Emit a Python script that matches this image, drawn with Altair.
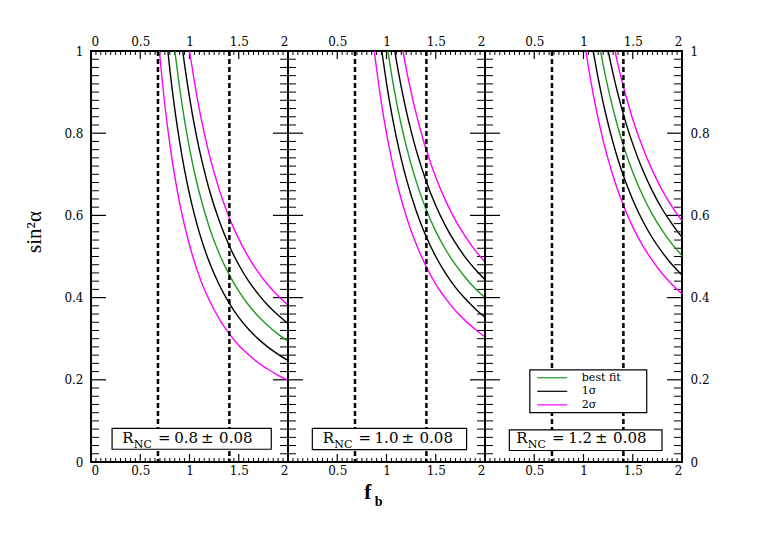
import altair as alt
import pandas as pd

W, H = 197, 411
FONT = "DejaVu Serif"
TFONT = "Liberation Serif"
GREEN = "#1f9a1f"
MAGENTA = "#ff00ff"

R_TEXT = ["0.8", "1.0", "1.2"]
DASHED_X = [0.68, 1.405]
X_LABELS = [0, 0.5, 1, 1.5, 2]
Y_LABELS = [0, 0.2, 0.4, 0.6, 0.8, 1.0]

# ---- curves
# panel 1 (R_NC = 0.8)
p1_2lo_x = [0.694, 0.75, 0.8, 0.85, 0.9, 0.95, 1.0, 1.1, 1.2, 1.3, 1.4, 1.5, 1.6, 1.7, 1.8, 1.9, 2.0]
p1_2lo_y = [1.0, 0.868, 0.774, 0.696, 0.630, 0.575, 0.528, 0.451, 0.394, 0.349, 0.313, 0.284, 0.261, 0.241, 0.225, 0.211, 0.199]
p1_1lo_x = [0.780, 0.8, 0.85, 0.9, 0.95, 1.0, 1.05, 1.1, 1.2, 1.3, 1.4, 1.5, 1.6, 1.7, 1.8, 1.9, 2.0]
p1_1lo_y = [1.0, 0.956, 0.859, 0.779, 0.710, 0.652, 0.602, 0.558, 0.487, 0.432, 0.388, 0.352, 0.323, 0.299, 0.279, 0.262, 0.247]
p1_bf_x = [0.851, 0.9, 0.95, 1.0, 1.05, 1.1, 1.2, 1.3, 1.4, 1.5, 1.6, 1.7, 1.8, 1.9, 2.0]
p1_bf_y = [1.0, 0.910, 0.831, 0.763, 0.705, 0.655, 0.572, 0.508, 0.457, 0.416, 0.382, 0.354, 0.331, 0.311, 0.294]
p1_1hi_x = [0.931, 0.95, 1.0, 1.05, 1.1, 1.15, 1.2, 1.3, 1.4, 1.5, 1.6, 1.7, 1.8, 1.9, 2.0]
p1_1hi_y = [1.0, 0.967, 0.888, 0.819, 0.760, 0.709, 0.663, 0.588, 0.528, 0.480, 0.440, 0.408, 0.380, 0.357, 0.337]
p1_2hi_x = [1.0, 1.05, 1.1, 1.15, 1.2, 1.3, 1.4, 1.5, 1.6, 1.7, 1.8, 1.9, 2.0]
p1_2hi_y = [1.0, 0.925, 0.858, 0.800, 0.749, 0.664, 0.597, 0.543, 0.498, 0.461, 0.430, 0.404, 0.382]

# panel 2 (R_NC = 1.0)
p2_2lo_x = [0.876, 0.9, 0.95, 1.0, 1.05, 1.1, 1.2, 1.3, 1.4, 1.5, 1.6, 1.7, 1.8, 1.9, 2.0]
p2_2lo_y = [1.0, 0.955, 0.871, 0.800, 0.739, 0.685, 0.598, 0.531, 0.477, 0.433, 0.398, 0.368, 0.344, 0.323, 0.305]
p2_1lo_x = [0.952, 1.0, 1.05, 1.1, 1.15, 1.2, 1.3, 1.4, 1.5, 1.6, 1.7, 1.8, 1.9, 2.0]
p2_1lo_y = [1.0, 0.922, 0.851, 0.790, 0.737, 0.690, 0.612, 0.550, 0.500, 0.459, 0.425, 0.397, 0.373, 0.352]
p2_bf_x = [1.014, 1.05, 1.1, 1.15, 1.2, 1.3, 1.4, 1.5, 1.6, 1.7, 1.8, 1.9, 2.0]
p2_bf_y = [1.0, 0.945, 0.878, 0.820, 0.769, 0.684, 0.616, 0.561, 0.517, 0.480, 0.449, 0.422, 0.400]
p2_1hi_x = [1.084, 1.1, 1.15, 1.2, 1.25, 1.3, 1.4, 1.5, 1.6, 1.7, 1.8, 1.9, 2.0]
p2_1hi_y = [1.0, 0.977, 0.912, 0.855, 0.805, 0.760, 0.685, 0.624, 0.574, 0.533, 0.498, 0.469, 0.444]
p2_2hi_x = [1.167, 1.2, 1.25, 1.3, 1.35, 1.4, 1.5, 1.6, 1.7, 1.8, 1.9, 2.0]
p2_2hi_y = [1.0, 0.957, 0.900, 0.849, 0.803, 0.762, 0.693, 0.636, 0.588, 0.549, 0.515, 0.487]

# panel 3 (R_NC = 1.2)
p3_2lo_x = [1.024, 1.05, 1.1, 1.15, 1.2, 1.25, 1.3, 1.4, 1.5, 1.6, 1.7, 1.8, 1.9, 2.0]
p3_2lo_y = [1.0, 0.961, 0.893, 0.834, 0.782, 0.737, 0.696, 0.628, 0.572, 0.527, 0.490, 0.458, 0.432, 0.409]
p3_1lo_x = [1.099, 1.15, 1.2, 1.25, 1.3, 1.35, 1.4, 1.5, 1.6, 1.7, 1.8, 1.9, 2.0]
p3_1lo_y = [1.0, 0.932, 0.874, 0.823, 0.777, 0.736, 0.700, 0.638, 0.587, 0.545, 0.510, 0.480, 0.455]
p3_bf_x = [1.173, 1.2, 1.25, 1.3, 1.35, 1.4, 1.5, 1.6, 1.7, 1.8, 1.9, 2.0]
p3_bf_y = [1.0, 0.966, 0.909, 0.859, 0.814, 0.774, 0.705, 0.649, 0.602, 0.563, 0.530, 0.502]
p3_1hi_x = [1.251, 1.3, 1.35, 1.4, 1.45, 1.5, 1.6, 1.7, 1.8, 1.9, 2.0]
p3_1hi_y = [1.0, 0.945, 0.895, 0.850, 0.810, 0.774, 0.711, 0.659, 0.615, 0.579, 0.547]
p3_2hi_x = [1.319, 1.35, 1.4, 1.45, 1.5, 1.6, 1.7, 1.8, 1.9, 2.0]
p3_2hi_y = [1.0, 0.967, 0.918, 0.874, 0.834, 0.766, 0.709, 0.661, 0.621, 0.587]

CURVES = [
    [("2s", "lo2", p1_2lo_x, p1_2lo_y), ("1s", "lo1", p1_1lo_x, p1_1lo_y), ("bf", "bf", p1_bf_x, p1_bf_y),
     ("1s", "hi1", p1_1hi_x, p1_1hi_y), ("2s", "hi2", p1_2hi_x, p1_2hi_y)],
    [("2s", "lo2", p2_2lo_x, p2_2lo_y), ("1s", "lo1", p2_1lo_x, p2_1lo_y), ("bf", "bf", p2_bf_x, p2_bf_y),
     ("1s", "hi1", p2_1hi_x, p2_1hi_y), ("2s", "hi2", p2_2hi_x, p2_2hi_y)],
    [("2s", "lo2", p3_2lo_x, p3_2lo_y), ("1s", "lo1", p3_1lo_x, p3_1lo_y), ("bf", "bf", p3_bf_x, p3_bf_y),
     ("1s", "hi1", p3_1hi_x, p3_1hi_y), ("2s", "hi2", p3_2hi_x, p3_2hi_y)],
]

# label boxes (data coords per panel)
BOX_X1 = [0.214, 0.247, 0.247]
BOX_X2 = [1.830, 1.813, 1.797]
BOX_Y1 = [0.031, 0.030, 0.028]
BOX_Y2 = [0.082, 0.082, 0.078]
TEXT_SHIFT = [0.0, 0.035, 0.0]

# legend (panel 3)
LEG_LABELS = ["best fit", "1\u03c3", "2\u03c3"]
LEG_KINDS = ["bf", "1s", "2s"]
LEG_Y = [0.205, 0.172, 0.139]

Y_MAJOR = [i / 5 for i in range(6)]
Y_MINOR = [i / 50 for i in range(51) if i % 10 != 0]
X_MAJOR = [i / 2 for i in range(5)]
X_MINOR = [i / 20 for i in range(41) if i % 10 != 0]

xscale = alt.Scale(domain=[0, 2], nice=False, zero=False)
yscale = alt.Scale(domain=[0, 1], nice=False, zero=False)
cscale = alt.Scale(domain=["bf", "1s", "2s"], range=[GREEN, "black", MAGENTA])


def axis_x(orient, i):
    expr = "datum.label" if i == 0 else "datum.value == 0 ? '' : datum.label"
    return alt.Axis(orient=orient, values=X_LABELS, format="~g", labelExpr=expr, ticks=False,
                    domain=False, grid=False, labelFont=FONT, labelFontSize=12, labelColor="black",
                    labelPadding=3, title=None)


def axis_y(orient):
    return alt.Axis(orient=orient, values=Y_LABELS, format="~g", ticks=False, domain=False,
                    grid=False, labelFont=FONT, labelFontSize=12, labelColor="black",
                    labelPadding=8, title=None)


def tick_layers():
    layers = []
    for vals, ln, w in [(Y_MAJOR, 15, 1.2), (Y_MINOR, 8, 1.0)]:
        d = pd.DataFrame({"v": vals})
        layers.append(alt.Chart(d).mark_rule(color="black", strokeWidth=w).encode(
            y=alt.Y("v:Q", scale=yscale, axis=None), x=alt.value(0), x2=alt.value(ln)))
        layers.append(alt.Chart(d).mark_rule(color="black", strokeWidth=w).encode(
            y=alt.Y("v:Q", scale=yscale, axis=None), x=alt.value(W - ln), x2=alt.value(W)))
    for vals, ln, w in [(X_MAJOR, 8, 1.2), (X_MINOR, 4, 1.0)]:
        d = pd.DataFrame({"v": vals})
        layers.append(alt.Chart(d).mark_rule(color="black", strokeWidth=w).encode(
            x=alt.X("v:Q", scale=xscale, axis=None), y=alt.value(0), y2=alt.value(ln)))
        layers.append(alt.Chart(d).mark_rule(color="black", strokeWidth=w).encode(
            x=alt.X("v:Q", scale=xscale, axis=None), y=alt.value(H - ln), y2=alt.value(H)))
    return layers


def make_panel(i):
    rows = []
    for kind, cid, xs, ys in CURVES[i]:
        for x, y in zip(xs, ys):
            rows.append({"kind": kind, "curve": cid, "x": x, "y": y})
    df = pd.DataFrame(rows)

    curves = alt.Chart(df).mark_line(strokeWidth=1.4, interpolate="monotone").encode(
        x=alt.X("x:Q", scale=xscale, axis=axis_x("bottom", i)),
        y=alt.Y("y:Q", scale=yscale, axis=axis_y("left") if i == 0 else None),
        color=alt.Color("kind:N", scale=cscale, legend=None),
        detail="curve:N",
        order="x:Q",
    )
    ghost = alt.Chart(df).mark_point(opacity=0).encode(
        x=alt.X("x:Q", scale=xscale, axis=axis_x("top", i)),
        y=alt.Y("y:Q", scale=yscale, axis=axis_y("right") if i == 2 else None),
    )
    dashed = alt.Chart(pd.DataFrame({"v": DASHED_X})).mark_rule(
        color="black", strokeWidth=2.5, strokeDash=[5, 3]).encode(
        x=alt.X("v:Q", scale=xscale, axis=None))

    box_df = pd.DataFrame({"x1": [BOX_X1[i]], "x2": [BOX_X2[i]], "y1": [BOX_Y1[i]], "y2": [BOX_Y2[i]]})
    box = alt.Chart(box_df).mark_rect(fill="white", stroke="black", strokeWidth=1.2).encode(
        x=alt.X("x1:Q", scale=xscale, axis=None), x2="x2:Q",
        y=alt.Y("y1:Q", scale=yscale, axis=None), y2="y2:Q")

    s = TEXT_SHIFT[i]
    left_df = pd.DataFrame({"x": [0.317 + s, 0.435 + s], "y": [0.046, 0.034],
                            "t": ["R", "NC"], "s": [15, 11]})
    mid_df = pd.DataFrame({"x": [0.745 + s, 0.965 + s, 1.18 + s, 1.47 + s], "y": [0.046] * 4,
                           "t": ["=", R_TEXT[i], "\u00b1", "0.08"], "s": [15, 15, 15, 15]})
    t_left = alt.Chart(left_df).mark_text(align="left", baseline="alphabetic", font=FONT,
                                          color="black").encode(
        x=alt.X("x:Q", scale=xscale, axis=None), y=alt.Y("y:Q", scale=yscale, axis=None),
        text="t:N", size=alt.Size("s:Q", scale=None))
    t_mid = alt.Chart(mid_df).mark_text(align="center", baseline="alphabetic", font=FONT,
                                        color="black").encode(
        x=alt.X("x:Q", scale=xscale, axis=None), y=alt.Y("y:Q", scale=yscale, axis=None),
        text="t:N", size=alt.Size("s:Q", scale=None))

    layers = tick_layers() + [curves, ghost, dashed, box, t_left, t_mid]

    if i == 0:
        ytitle = alt.Chart(pd.DataFrame({"t": ["sin\u00b2\u03b1"]})).mark_text(
            angle=270, align="center", baseline="middle", font=TFONT, fontSize=21,
            color="black").encode(text="t:N", x=alt.value(-56), y=alt.value(181))
        layers.append(ytitle)
    if i == 1:
        f_df = pd.DataFrame({"x": [0.81], "t": ["f"]})
        b_df = pd.DataFrame({"x": [0.88], "t": ["b"]})
        ft = alt.Chart(f_df).mark_text(align="center", baseline="alphabetic", font=TFONT,
                                       fontSize=21, fontWeight="bold", color="black").encode(
            x=alt.X("x:Q", scale=xscale, axis=None), y=alt.value(448), text="t:N")
        bt = alt.Chart(b_df).mark_text(align="left", baseline="alphabetic", font=TFONT,
                                       fontSize=14, fontWeight="bold", color="black").encode(
            x=alt.X("x:Q", scale=xscale, axis=None), y=alt.value(455), text="t:N")
        layers += [ft, bt]
    if i == 2:
        leg_box = alt.Chart(pd.DataFrame({"x1": [0.455], "x2": [1.642], "y1": [0.120], "y2": [0.224]})).mark_rect(
            fill="white", stroke="black", strokeWidth=1.2).encode(
            x=alt.X("x1:Q", scale=xscale, axis=None), x2="x2:Q",
            y=alt.Y("y1:Q", scale=yscale, axis=None), y2="y2:Q")
        leg_df = pd.DataFrame({"kind": LEG_KINDS, "lab": LEG_LABELS,
                               "x1": [0.53] * 3, "x2": [0.835] * 3, "tx": [0.983] * 3,
                               "y": LEG_Y})
        leg_lines = alt.Chart(leg_df).mark_rule(strokeWidth=1.2).encode(
            x=alt.X("x1:Q", scale=xscale, axis=None), x2="x2:Q",
            y=alt.Y("y:Q", scale=yscale, axis=None),
            color=alt.Color("kind:N", scale=cscale, legend=None))
        leg_text = alt.Chart(leg_df).mark_text(align="left", baseline="middle", font=FONT,
                                               fontSize=11, color="black").encode(
            x=alt.X("tx:Q", scale=xscale, axis=None), y=alt.Y("y:Q", scale=yscale, axis=None),
            text="lab:N")
        layers += [leg_box, leg_lines, leg_text]

    return alt.layer(*layers).resolve_axis(x="independent", y="independent").properties(
        width=W, height=H)


chart = alt.hconcat(make_panel(0), make_panel(1), make_panel(2), spacing=0, bounds="flush").properties(
    padding={"left": 15, "top": 26, "right": 5, "bottom": 5},
    background="white",
).configure_view(stroke="black", strokeWidth=2)

chart.save("out.html", embed_options={"renderer": "svg", "actions": False})
